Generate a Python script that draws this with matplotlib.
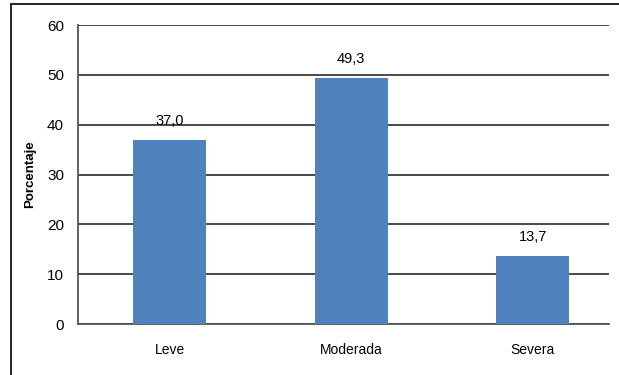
import matplotlib
matplotlib.use('Agg')
import matplotlib.pyplot as plt
from matplotlib.patches import Rectangle

categorias = ['Leve', 'Moderada', 'Severa']
porcentajes = [37.0, 49.3, 13.7]
ticks_y = [0, 10, 20, 30, 40, 50, 60]

plt.rcParams['font.family'] = ['Liberation Sans', 'DejaVu Sans']

fig = plt.figure(figsize=(6.19, 3.75), dpi=100)
ax = fig.add_axes([0.126, 0.136, 0.858, 0.797])

# marco exterior
marco = Rectangle((11 / 619, -0.05), 1.1, 1.05 - 4 / 375,
                  transform=fig.transFigure, fill=False,
                  edgecolor='#000000', linewidth=1.2, clip_on=False)
fig.add_artist(marco)

x = range(len(categorias))
ax.bar(x, porcentajes, width=0.40, color='#4f81bd', zorder=3)
for xi, v in zip(x, porcentajes):
    ax.text(xi, v + 2.4, f'{v:.1f}'.replace('.', ','), ha='center', va='bottom',
            fontsize=10.5)

ax.set_xlim(-0.504, 2.42)
ax.set_ylim(0, 60)
ax.set_yticks(ticks_y)
ax.set_xticks(list(x))
ax.set_xticklabels(categorias, fontsize=10)
ax.tick_params(axis='y', labelsize=11, length=0, pad=10)
ax.tick_params(axis='x', length=0, pad=14)
ax.grid(axis='y', color='#3a3a3a', linewidth=1.3, zorder=0)
for s in ['top', 'right']:
    ax.spines[s].set_visible(False)
ax.spines['left'].set_color('#555555')
ax.spines['left'].set_linewidth(1.3)
ax.spines['bottom'].set_color('#555555')
ax.spines['bottom'].set_linewidth(1.3)
ax.set_ylabel('Porcentaje', fontsize=9.5, fontweight='bold', labelpad=8)

fig.savefig('out.png', dpi=100)
